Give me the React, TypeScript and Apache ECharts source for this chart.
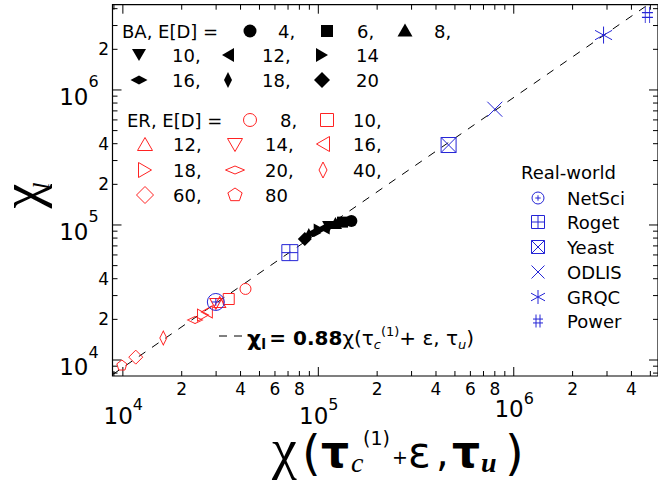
import React, { useEffect, useRef } from 'react';
import * as echarts from 'echarts';

const SANS = '"DejaVu Sans", sans-serif';
const SERIF = '"Liberation Serif", "DejaVu Serif", serif';
const RED = '#ff2222';
const BLUE = '#2424d6';

// log-log axis extents
const X_MIN = 8850;
const X_MAX = 5.47e6;
const Y_MIN = 7613;
const Y_MAX = 4.28e6;

// fitted relation chi_l = 0.88 chi(...)
const FIT_SLOPE = 0.88;
const FIT_X = [8850, 4.86e6];

// Barabasi-Albert networks
const BA_DEGREES = [4, 6, 8, 10, 12, 14, 16, 18, 20];
const BA_X = [1.476e5, 1.33e5, 1.224e5, 1.129e5, 1.065e5, 1.016e5, 9.49e4, 8.94e4, 8.53e4];
const BA_Y = [1.07e5, 1.05e5, 1.035e5, 9.66e4, 9.5e4, 9.18e4, 8.73e4, 8.43e4, 7.88e4];

// Erdos-Renyi networks
const ER_DEGREES = [8, 10, 12, 14, 16, 18, 20, 40, 60, 80];
const ER_X = [4.24e4, 3.48e4, 3.13e4, 2.99e4, 2.69e4, 2.57e4, 2.34e4, 1.61e4, 1.164e4, 9.88e3];
const ER_Y = [3.36e4, 2.83e4, 2.69e4, 2.6e4, 2.27e4, 2.15e4, 1.98e4, 1.455e4, 1.05e4, 9.18e3];

// real-world networks
const REAL_NAMES = ['NetSci', 'Roget', 'Yeast', 'ODLIS', 'GRQC', 'Power'];
const REAL_X = [2.99e4, 7.15e4, 4.64e5, 8.0e5, 2.88e6, 4.83e6];
const REAL_Y = [2.69e4, 6.24e4, 3.91e5, 7.2e5, 2.55e6, 3.59e6];

// tick labels: [value, text]
const X_MINOR_LABELS: [number, string][] = [
  [2e4, '2'], [4e4, '4'], [6e4, '6'], [8e4, '8'],
  [2e5, '2'], [4e5, '4'], [6e5, '6'], [8e5, '8'],
  [2e6, '2'], [4e6, '4'],
];
const X_MAJOR_LABELS: [number, string][] = [[1e4, '4'], [1e5, '5'], [1e6, '6']];
const Y_MINOR_LABELS: [number, string][] = [[2e4, '2'], [4e4, '4'], [2e5, '2'], [4e5, '4'], [2e6, '2']];
const Y_MAJOR_LABELS: [number, string][] = [[1e4, '4'], [1e5, '5'], [1e6, '6']];

// marker styles: [shape, width, height]
type Mk = [string, number, number];
const BA_MARKS: Mk[] = [
  ['circle', 12, 12], ['square', 11, 11], ['triUp', 13, 12], ['triDown', 13, 12],
  ['triLeft', 12, 13], ['triRight', 12, 13], ['diamond', 15, 8], ['diamond', 7, 14], ['diamond', 14, 14],
];
const ER_MARKS: Mk[] = [
  ['circle', 11, 11], ['square', 11, 11], ['triUp', 12, 11], ['triDown', 12, 11], ['triLeft', 11, 12],
  ['triRight', 11, 12], ['diamond', 15, 7], ['diamond', 7, 14], ['diamond', 14, 14], ['pentagon', 10, 10],
];
const REAL_MARKS: Mk[] = [
  ['circlePlus', 17, 17], ['squarePlus', 16, 16], ['squareX', 15, 15],
  ['cross', 15, 15], ['star', 17, 17], ['hash', 11, 16],
];

function f(n: number) {
  return (Math.round(n * 100) / 100).toString();
}

function shapePath(kind: string, w: number, h: number): string {
  const a = w / 2;
  const b = h / 2;
  const circle = `M${f(-a)} 0A${f(a)} ${f(b)} 0 1 0 ${f(a)} 0A${f(a)} ${f(b)} 0 1 0 ${f(-a)} 0Z`;
  const square = `M${f(-a)} ${f(-b)}L${f(a)} ${f(-b)}L${f(a)} ${f(b)}L${f(-a)} ${f(b)}Z`;
  switch (kind) {
    case 'circle':
      return circle;
    case 'square':
      return square;
    case 'triUp':
      return `M0 ${f(-b)}L${f(a)} ${f(b)}L${f(-a)} ${f(b)}Z`;
    case 'triDown':
      return `M${f(-a)} ${f(-b)}L${f(a)} ${f(-b)}L0 ${f(b)}Z`;
    case 'triLeft':
      return `M${f(-a)} 0L${f(a)} ${f(-b)}L${f(a)} ${f(b)}Z`;
    case 'triRight':
      return `M${f(-a)} ${f(-b)}L${f(a)} 0L${f(-a)} ${f(b)}Z`;
    case 'diamond':
      return `M0 ${f(-b)}L${f(a)} 0L0 ${f(b)}L${f(-a)} 0Z`;
    case 'pentagon': {
      const pts = [0, 1, 2, 3, 4].map((k) => {
        const ang = -Math.PI / 2 + (k * 2 * Math.PI) / 5;
        return `${f(a * Math.cos(ang))} ${f(b * Math.sin(ang))}`;
      });
      return 'M' + pts.join('L') + 'Z';
    }
    case 'circlePlus':
      return circle + `M${f(-a * 0.45)} 0L${f(a * 0.45)} 0M0 ${f(-b * 0.45)}L0 ${f(b * 0.45)}`;
    case 'squarePlus':
      return square + `M${f(-a)} 0L${f(a)} 0M0 ${f(-b)}L0 ${f(b)}`;
    case 'squareX':
      return square + `M${f(-a)} ${f(-b)}L${f(a)} ${f(b)}M${f(a)} ${f(-b)}L${f(-a)} ${f(b)}`;
    case 'cross':
      return `M${f(-a)} ${f(-b)}L${f(a)} ${f(b)}M${f(a)} ${f(-b)}L${f(-a)} ${f(b)}`;
    case 'star':
      return `M0 ${f(-b)}L0 ${f(b)}M${f(-a)} ${f(-b * 0.55)}L${f(a)} ${f(b * 0.55)}M${f(a)} ${f(-b * 0.55)}L${f(-a)} ${f(b * 0.55)}`;
    case 'hash':
      return `M${f(-a * 0.4)} ${f(-b)}L${f(-a * 0.4)} ${f(b)}M${f(a * 0.4)} ${f(-b)}L${f(a * 0.4)} ${f(b)}M${f(-a)} ${f(-b * 0.3)}L${f(a)} ${f(-b * 0.3)}M${f(-a)} ${f(b * 0.3)}L${f(a)} ${f(b * 0.3)}`;
    default:
      return square;
  }
}

function legendShape(kind: string, w: number, h: number, x: number, y: number, fill: string, stroke: string) {
  const name = `mk-${kind}-${w}-${h}`;
  echarts.graphic.registerShape(name, echarts.graphic.extendPath(shapePath(kind, w, h), {}));
  return { type: name, x, y, silent: true, z: 10, style: { fill, stroke, lineWidth: 1 } };
}

function label(text: string, x: number, y: number, size = 18, align = 'left', font = SANS, extra = '') {
  return {
    type: 'text',
    x,
    y,
    silent: true,
    z: 10,
    style: { text, fill: '#000', font: `${extra} ${size}px ${font}`.trim(), align, verticalAlign: 'middle' },
  };
}

function isMajor(v: number) {
  const l = Math.log10(v);
  return Math.abs(l - Math.round(l)) < 1e-9;
}

const X_TICKS: number[] = [];
const Y_TICKS: number[] = [];
for (const dec of [1e3, 1e4, 1e5, 1e6]) {
  for (let m = 1; m <= 9; m++) {
    const v = m * dec;
    if (v >= X_MIN && v <= X_MAX) X_TICKS.push(v);
    if (v >= Y_MIN && v <= Y_MAX) Y_TICKS.push(v);
  }
}

type LabelItem = { v: number; axis: 'x' | 'y'; major: boolean; text: string };
const LABEL_ITEMS: LabelItem[] = [
  ...X_MINOR_LABELS.map(([v, t]) => ({ v, axis: 'x' as const, major: false, text: t })),
  ...X_MAJOR_LABELS.map(([v, t]) => ({ v, axis: 'x' as const, major: true, text: t })),
  ...Y_MINOR_LABELS.map(([v, t]) => ({ v, axis: 'y' as const, major: false, text: t })),
  ...Y_MAJOR_LABELS.map(([v, t]) => ({ v, axis: 'y' as const, major: true, text: t })),
];

function txt(text: string, x: number, y: number, size: number, align: string) {
  return {
    type: 'text',
    x,
    y,
    style: { text, fill: '#000', font: `${size}px ${SANS}`, align, verticalAlign: 'middle' },
  };
}

function buildOption() {
  const tickSeries = {
    type: 'custom',
    silent: true,
    clip: false,
    z: 4,
    data: [
      ...X_TICKS.map((v) => [v, Y_MIN, 0, isMajor(v) ? 1 : 0]),
      ...Y_TICKS.map((v) => [X_MIN, v, 1, isMajor(v) ? 1 : 0]),
    ],
    renderItem: (params: any, api: any) => {
      const dir = api.value(2);
      const len = api.value(3) ? 9 : 5;
      const st = { stroke: '#000', lineWidth: 1 };
      if (dir === 0) {
        const b = api.coord([api.value(0), Y_MIN]);
        const t = api.coord([api.value(0), Y_MAX]);
        return {
          type: 'group',
          children: [
            { type: 'line', shape: { x1: b[0], y1: b[1], x2: b[0], y2: b[1] - len }, style: st },
            { type: 'line', shape: { x1: t[0], y1: t[1], x2: t[0], y2: t[1] + len }, style: st },
          ],
        };
      }
      const l = api.coord([X_MIN, api.value(1)]);
      const r = api.coord([X_MAX, api.value(1)]);
      return {
        type: 'group',
        children: [
          { type: 'line', shape: { x1: l[0], y1: l[1], x2: l[0] + len, y2: l[1] }, style: st },
          { type: 'line', shape: { x1: r[0], y1: r[1], x2: r[0] - len, y2: r[1] }, style: st },
        ],
      };
    },
  };

  const labelSeries = {
    type: 'custom',
    silent: true,
    clip: false,
    z: 4,
    data: LABEL_ITEMS.map((it) => (it.axis === 'x' ? [it.v, Y_MIN] : [X_MIN, it.v])),
    renderItem: (params: any, api: any) => {
      const it = LABEL_ITEMS[params.dataIndex];
      const p = api.coord([api.value(0), api.value(1)]);
      if (it.axis === 'x') {
        if (!it.major) return txt(it.text, p[0], p[1] + 12.5, 17, 'center');
        // the 10^6 label sits a little higher than the others
        const top = it.v >= 1e6;
        return {
          type: 'group',
          children: [
            txt('10', p[0] + 10, p[1] + (top ? 33 : 40), 23, 'right'),
            txt(it.text, p[0] + 10, p[1] + (top ? 22 : 28), 16, 'left'),
          ],
        };
      }
      if (!it.major) return txt(it.text, p[0] - 3.5, p[1], 17, 'right');
      return {
        type: 'group',
        children: [
          txt('10', p[0] - 24, p[1] + 7, 23, 'right'),
          txt(it.text, p[0] - 24, p[1] - 8, 16, 'left'),
        ],
      };
    },
  };

  const fitSeries = {
    type: 'line',
    silent: true,
    showSymbol: false,
    symbol: 'none',
    z: 3,
    data: FIT_X.map((x) => [x, FIT_SLOPE * x]),
    lineStyle: { color: '#000', width: 1, type: [8, 8] },
  };

  const sym = (m: Mk) => ({ symbol: 'path://' + shapePath(m[0], m[1], m[2]), symbolSize: [m[1], m[2]] });

  const baSeries = {
    type: 'scatter',
    name: 'BA',
    silent: true,
    z: 5,
    data: BA_X.map((x, i) => ({ value: [x, BA_Y[i]], name: `BA ${BA_DEGREES[i]}`, ...sym(BA_MARKS[i]) })),
    itemStyle: { color: '#000', borderWidth: 0, opacity: 1 },
  };
  const erSeries = {
    type: 'scatter',
    name: 'ER',
    silent: true,
    z: 5,
    data: ER_X.map((x, i) => ({ value: [x, ER_Y[i]], name: `ER ${ER_DEGREES[i]}`, ...sym(ER_MARKS[i]) })),
    itemStyle: { color: 'rgba(0,0,0,0)', borderColor: RED, borderWidth: 1, opacity: 1 },
  };
  const realSeries = {
    type: 'scatter',
    name: 'Real-world',
    silent: true,
    z: 6,
    data: REAL_X.map((x, i) => ({ value: [x, REAL_Y[i]], name: REAL_NAMES[i], ...sym(REAL_MARKS[i]) })),
    itemStyle: { color: 'rgba(0,0,0,0)', borderColor: BLUE, borderWidth: 1, opacity: 1 },
  };

  // legend blocks
  const g: any[] = [];
  // BA
  g.push(label('BA, E[D] =', 122, 31));
  const baLegend: [number, number, number, number, number][] = [
    [0, 250, 31, 13, 13], [1, 327, 31, 12, 12], [2, 405, 30, 15, 13],
    [3, 139, 55, 14, 12], [4, 228, 55, 12, 14], [5, 322, 55, 12, 14],
    [6, 139, 80, 17, 9], [7, 228, 80, 8, 16], [8, 322, 80, 16, 16],
  ];
  const baText: [number, number][] = [[278, 31], [357, 31], [434, 31], [172, 55], [262, 55], [356, 55], [172, 80], [262, 80], [356, 80]];
  baLegend.forEach(([i, x, y, w, h]) => {
    g.push(legendShape(BA_MARKS[i][0], w, h, x, y, '#000', 'none'));
    const last = i === 5 || i === 8;
    g.push(label(`${BA_DEGREES[i]}${last ? '' : ','}`, baText[i][0], baText[i][1]));
  });
  // ER
  g.push(label('ER, E[D] =', 127, 120));
  const erLegend: [number, number, number, number][] = [
    [250, 120, 13, 13], [327, 120, 13, 13],
    [145, 144, 15, 13], [235, 145, 15, 13], [323, 144, 13, 15],
    [145, 170, 13, 15], [235, 170, 19, 8], [323, 170, 8, 16],
    [145, 195, 17, 17], [235, 195, 15, 14],
  ];
  const erText: [number, number][] = [
    [280, 120], [353, 120], [173, 144], [265, 144], [353, 144],
    [173, 170], [265, 170], [353, 170], [173, 195], [265, 195],
  ];
  erLegend.forEach(([x, y, w, h], i) => {
    g.push(legendShape(ER_MARKS[i][0], w, h, x, y, 'none', RED));
    const last = i === ER_DEGREES.length - 1;
    g.push(label(`${ER_DEGREES[i]}${last ? '' : ','}`, erText[i][0], erText[i][1]));
  });
  // real-world
  g.push(label('Real-world', 521, 172));
  const realRows = [198, 222, 247, 272, 297, 321];
  const realLegendSize: [number, number][] = [[12, 12], [13, 13], [13, 13], [13, 13], [14, 14], [10, 13]];
  REAL_NAMES.forEach((n, i) => {
    g.push(legendShape(REAL_MARKS[i][0], realLegendSize[i][0], realLegendSize[i][1], 538, realRows[i], 'none', BLUE));
    g.push(label(n, 567, realRows[i]));
  });

  // fit-line annotation
  g.push({
    type: 'line',
    silent: true,
    shape: { x1: 219, y1: 336, x2: 242, y2: 336 },
    style: { stroke: '#000', lineWidth: 1, lineDash: [8, 7] },
  });
  g.push({
    type: 'text',
    x: 247,
    y: 338,
    silent: true,
    style: {
      text: '{g|χ}{l|l} {b|= 0.88}{h|χ(τ}{s|c}{p|(1)}{h|+ ε, τ}{s|u}{h|)}',
      align: 'left',
      verticalAlign: 'middle',
      fill: '#000',
      rich: {
        g: { font: `bold 22px ${SANS}`, lineHeight: 26, fill: '#000' },
        l: { font: `bold 14px ${SANS}`, lineHeight: 16, verticalAlign: 'bottom', fill: '#000' },
        b: { font: `bold 20px ${SANS}`, lineHeight: 26, fill: '#000' },
        h: { font: `20px ${SANS}`, lineHeight: 26, fill: '#000' },
        s: { font: `italic 13px ${SANS}`, lineHeight: 14, verticalAlign: 'bottom', fill: '#000' },
        p: { font: `13px ${SANS}`, lineHeight: 14, verticalAlign: 'top', fill: '#000' },
      },
    },
  });

  // x-axis title
  g.push(label('χ', 272, 449, 56, 'left', SERIF));
  g.push(label('(', 302, 453, 48, 'left', SANS));
  g.push(label('τ', 321, 451, 44, 'left', SANS, 'bold'));
  g.push(label('c', 351, 462, 28, 'left', SERIF, 'italic'));
  g.push(label('(1)', 363, 438, 19, 'left', SANS));
  g.push(label('+', 392, 457, 19, 'left', SANS));
  g.push(label('ε', 408, 452, 42, 'left', SANS));
  g.push(label(',', 436, 452, 40, 'left', SANS));
  g.push(label('τ', 452, 451, 44, 'left', SANS, 'bold'));
  g.push(label('u', 481, 462, 28, 'left', SERIF, 'italic bold'));
  g.push(label(')', 505, 453, 48, 'left', SANS));

  // y-axis title (rotated)
  g.push({
    type: 'group',
    x: 21,
    y: 196,
    rotation: Math.PI / 2,
    silent: true,
    children: [
      { type: 'text', x: 0, y: 0, style: { text: 'χ', fill: '#000', font: `56px ${SERIF}`, align: 'center', verticalAlign: 'middle' } },
      { type: 'text', x: 10, y: 20, style: { text: 'l', fill: '#000', font: `italic 24px ${SERIF}`, align: 'center', verticalAlign: 'middle' } },
    ],
  });

  const axisCommon = {
    type: 'log',
    logBase: 10,
    axisLine: { show: false },
    axisTick: { show: false },
    axisLabel: { show: false },
    splitLine: { show: false },
    minorTick: { show: false },
    minorSplitLine: { show: false },
  };

  return {
    animation: false,
    backgroundColor: '#fff',
    grid: {
      left: 112.5,
      top: 4.7,
      right: -6,
      bottom: 106,
      show: true,
      borderColor: '#000',
      borderWidth: 1.2,
      backgroundColor: 'transparent',
    },
    xAxis: { ...axisCommon, min: X_MIN, max: X_MAX },
    yAxis: { ...axisCommon, min: Y_MIN, max: Y_MAX },
    series: [fitSeries, baSeries, erSeries, realSeries, tickSeries, labelSeries],
    graphic: g,
  };
}

export default function App() {
  const ref = useRef<HTMLDivElement>(null);
  useEffect(() => {
    if (!ref.current) return;
    const chart = echarts.init(ref.current, null, { renderer: 'svg' });
    chart.setOption(buildOption() as any);
    return () => chart.dispose();
  }, []);
  return (
    <div
      ref={ref}
      style={{ position: 'fixed', left: 0, top: 0, width: 658, height: 482, background: '#fff' }}
    />
  );
}
